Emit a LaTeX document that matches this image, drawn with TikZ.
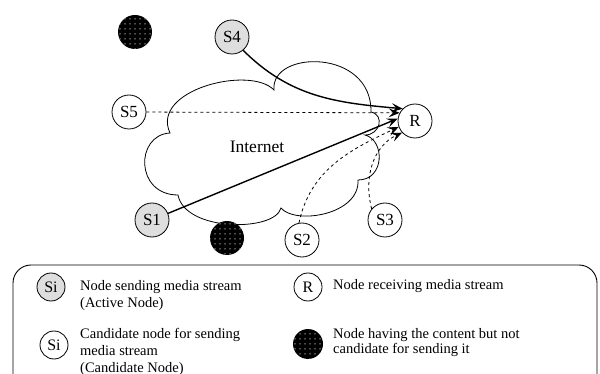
\documentclass[tikz,border=0pt]{standalone}
\usepackage{fontspec}
\setmainfont{Liberation Serif}
\usetikzlibrary{arrows.meta,patterns.meta}

\definecolor{activegray}{gray}{0.87}

\tikzset{
  peer/.style={circle, draw, line width=0.8pt, minimum size=34pt, inner sep=0pt,
               font=\fontsize{17}{17}\selectfont},
  active/.style={peer, fill=activegray},
  holder/.style={circle, minimum size=34pt, inner sep=0pt, fill=black,
                 postaction={pattern={Dots[distance=5pt,radius=0.75pt]}, pattern color=gray!70}},
  keypeer/.style={peer, minimum size=28pt, font=\fontsize{16}{16}\selectfont},
  keytext/.style={anchor=base west, align=left, inner sep=0pt,
                  font=\fontsize{14.5}{17}\selectfont},
  stream/.style={line width=1.4pt, -{Stealth[length=11pt,width=9pt,inset=4.5pt]}},
  probe/.style={line width=0.8pt, dash pattern=on 3pt off 3pt,
                -{Stealth[length=11pt,width=9pt,inset=4.5pt]}},
}

\begin{document}
\begin{tikzpicture}[x=1pt, y=-1pt]
  \path[use as bounding box] (0,0) rectangle (600,374);
  \clip (0,0) rectangle (600,374);

  % the Internet cloud
  \draw[line width=0.8pt, fill=white]
    (170,133) .. controls (150,90) and (250,65) .. (274,90)
    .. controls (270,50) and (372,48) .. (371,112)
    .. controls (385,115) and (380,135) .. (365,135)
    .. controls (385,140) and (385,180) .. (358,180)
    .. controls (360,215) and (295,225) .. (281,208)
    .. controls (275,232) and (185,232) .. (178,195)
    .. controls (135,195) and (135,135) .. (170,133) -- cycle;
  \node[font=\fontsize{17.5}{17.5}\selectfont] (net) at (257,147) {Internet};

  % peers
  \node[holder] (h1) at (135,32) {};
  \node[holder] (h2) at (227,238) {};
  \node[active] (S4) at (232,37) {S4};
  \node[active] (S1) at (152,220) {S1};
  \node[peer] (S5) at (129,112) {S5};
  \node[peer] (S2) at (302,240) {S2};
  \node[peer] (S3) at (385,220) {S3};
  \node[peer] (R) at (415,121) {R};

  % media streams and candidate paths
  \draw[stream] (S4.-50) to[out=-45, in=175] (R.135);
  \draw[probe] (S5) -- (R.152);
  \draw[stream] (S1) -- (R.172);
  \draw[probe] (S2.100) to[out=78, in=205] (R.200);
  \draw[probe] (S3.140) to[out=105, in=205] (R.222);

  % legend (base anchors sit on the last line of each text)
  \draw[line width=0.9pt, rounded corners=18pt] (13,265) rectangle (597,400);
  \node[keypeer, fill=activegray] (kA) at (51,287) {Si};
  \node[keytext] (tA) at (80,307) {Node sending media stream\\(Active Node)};
  \node[keypeer] (kC) at (54,345) {Si};
  \node[keytext] (tC) at (80,372) {Candidate node for sending\\media stream\\(Candidate Node)};
  \node[keypeer] (kR) at (308,287) {R};
  \node[keytext] (tR) at (333,290) {Node receiving media stream};
  \node[holder, minimum size=30pt] (kH) at (308,344) {};
  \node[keytext, font=\fontsize{14.5}{15}\selectfont] (tH) at (333,353) {Node having the content but not\\candidate for sending it};
\end{tikzpicture}
\end{document}
